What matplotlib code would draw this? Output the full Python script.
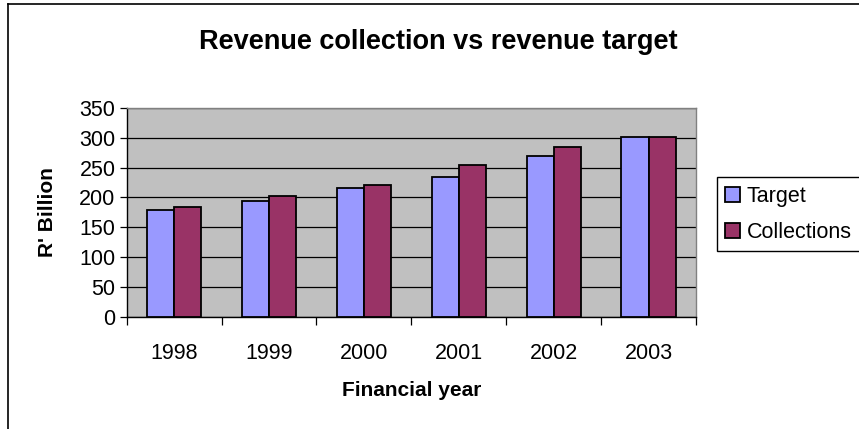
import matplotlib.pyplot as plt
import numpy as np
from matplotlib.lines import Line2D

years = ["1998", "1999", "2000", "2001", "2002", "2003"]
target = [179, 194, 215, 235, 270, 302]
collections = [184, 203, 220, 254, 284, 302]

plt.rcParams['font.family'] = ['Liberation Sans', 'DejaVu Sans']

fig = plt.figure(figsize=(8.59, 4.29), dpi=100)
ax = fig.add_axes([0.1475, 0.2618, 0.6628, 0.4865])
ax.set_facecolor("#C0C0C0")

x = np.arange(len(years))
w = 1 / 3.5
ax.bar(x - w / 2, target, w, color="#9999FF", edgecolor="black", linewidth=1.3, label="Target", zorder=3)
ax.bar(x + w / 2, collections, w, color="#993366", edgecolor="black", linewidth=1.3, label="Collections", zorder=3)

ax.set_xlim(-0.5, len(years) - 0.5)
ax.set_ylim(0, 350)
ax.set_yticks(range(0, 351, 50))
ax.yaxis.grid(True, color="black", linewidth=0.9, zorder=0)
ax.set_axisbelow(True)

# category boundary ticks, labels in the middle
ax.set_xticks(np.arange(-0.5, len(years), 1))
ax.set_xticklabels([])
ax.set_xticks(x, minor=True)
ax.set_xticklabels(years, minor=True)
ax.tick_params(axis="x", which="major", length=6, width=0.9, direction="out")
ax.tick_params(axis="x", which="minor", length=0, pad=19, labelsize=15.5)
ax.tick_params(axis="y", length=5, width=0.9, labelsize=15.5, pad=3)

for s in ["top", "right"]:
    ax.spines[s].set_color("#808080")
    ax.spines[s].set_linewidth(1)
for s in ["left", "bottom"]:
    ax.spines[s].set_color("black")
    ax.spines[s].set_linewidth(1)

fig.text(0.51, 0.903, "Revenue collection vs revenue target", ha="center", va="center",
         fontsize=19.5, fontweight="bold")
ax.set_xlabel("Financial year", fontsize=15, fontweight="bold", labelpad=12)
ax.set_ylabel("R' Billion", fontsize=15, fontweight="bold", labelpad=16)

fig.legend(loc="upper left", bbox_to_anchor=(716.5 / 859, 1 - 177 / 429), fontsize=15.5,
           frameon=True, fancybox=False, edgecolor="black", framealpha=1,
           handlelength=0.7, handleheight=0.7, handletextpad=0.3, borderpad=0.4,
           labelspacing=0.7, borderaxespad=0)

# chart area border
fig.add_artist(Line2D([7.5 / 859, 1], [1 - 3.5 / 429, 1 - 3.5 / 429], color="black", linewidth=1.2))
fig.add_artist(Line2D([7.5 / 859, 7.5 / 859], [0, 1 - 3.5 / 429], color="black", linewidth=1.2))

fig.savefig("out.png", dpi=100)
